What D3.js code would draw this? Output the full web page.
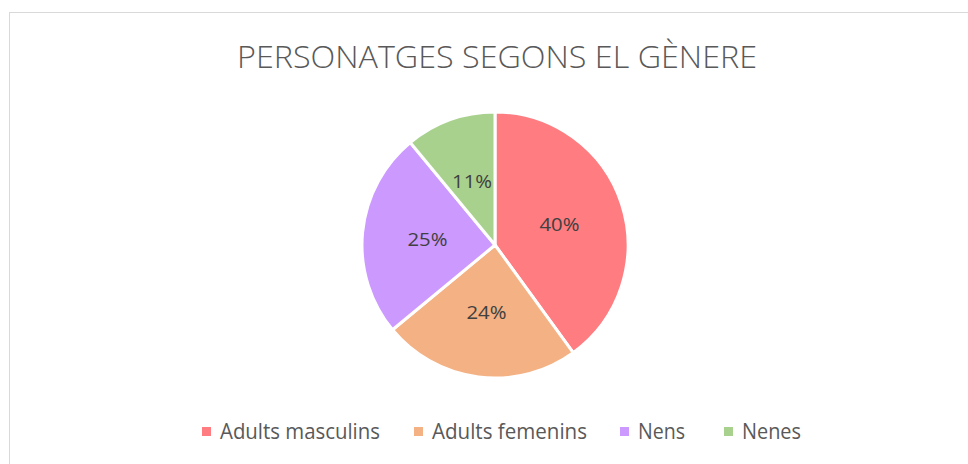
<!DOCTYPE html>
<html>
<head>
<meta charset="utf-8">
<script src="https://cdn.jsdelivr.net/npm/d3@7.9.0/dist/d3.min.js"></script>
<style>
  body { margin: 0; background: #fff; }
  svg { display: block; font-family: "Open Sans", "Liberation Sans", sans-serif; }
</style>
</head>
<body>
<svg width="968" height="464"></svg>
<script>
const categories = ["Adults masculins", "Adults femenins", "Nens", "Nenes"];
const values = [40, 24, 25, 11];
const colorList = ["#FF7C80", "#F4B183", "#CC99FF", "#A9D18E"];
const title = "PERSONATGES SEGONS EL GÈNERE";

const svg = d3.select("svg");

// chart frame (only top and left edges are visible)
svg.append("rect")
  .attr("x", 9.5).attr("y", 12.5)
  .attr("width", 1000).attr("height", 500)
  .attr("fill", "#fff")
  .attr("stroke", "#d9d9d9");

svg.append("text")
  .attr("x", 237).attr("y", 68)
  .attr("font-size", 32)
  .attr("font-weight", 300)
  .attr("fill", "#595959")
  .attr("textLength", 520)
  .attr("lengthAdjust", "spacingAndGlyphs")
  .text(title);

const data = categories.map((c, i) => ({ label: c, value: values[i] }));
const color = d3.scaleOrdinal().domain(categories).range(colorList);

const r = 133;
const pie = d3.pie().sort(null).value((d) => d.value);
const arc = d3.arc().innerRadius(0).outerRadius(r);
const labelArc = d3.arc().innerRadius(r * 0.51).outerRadius(r * 0.51);
const total = d3.sum(values);

const g = svg.append("g").attr("transform", "translate(495,245)");
const arcs = pie(data);

g.selectAll("path")
  .data(arcs)
  .enter()
  .append("path")
  .attr("d", arc)
  .attr("fill", (d) => color(d.data.label))
  .attr("stroke", "#fff")
  .attr("stroke-width", 3)
  .attr("stroke-linejoin", "round");

g.selectAll("text")
  .data(arcs)
  .enter()
  .append("text")
  .attr("transform", (d) => `translate(${labelArc.centroid(d)})`)
  .attr("text-anchor", "middle")
  .attr("dy", "0.4em")
  .attr("font-size", 18)
  .attr("fill", "#404040")
  .attr("textLength", 40)
  .attr("lengthAdjust", "spacingAndGlyphs")
  .text((d) => Math.round((d.data.value / total) * 100) + "%");

// legend
const legendX = [202, 414, 620, 724];
const legendW = [160, 155, 47, 59];
const legend = svg.append("g");
categories.forEach((c, i) => {
  legend.append("rect")
    .attr("x", legendX[i]).attr("y", 427)
    .attr("width", 9).attr("height", 9)
    .attr("fill", color(c));
  legend.append("text")
    .attr("x", legendX[i] + 18).attr("y", 439)
    .attr("font-size", 21)
    .attr("fill", "#595959")
    .attr("textLength", legendW[i])
    .attr("lengthAdjust", "spacingAndGlyphs")
    .text(c);
});
</script>
</body>
</html>
